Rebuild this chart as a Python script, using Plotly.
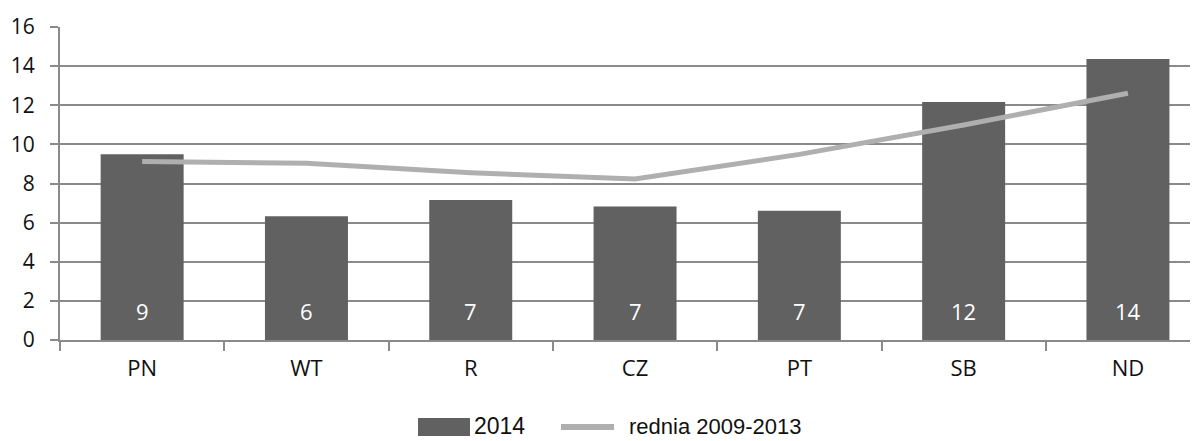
import plotly.graph_objects as go

days = ["PN", "WT", "R", "CZ", "PT", "SB", "ND"]
y2014 = [9.49, 6.32, 7.16, 6.82, 6.61, 12.17, 14.37]
avg_2009_2013 = [9.13, 9.03, 8.55, 8.23, 9.49, 10.99, 12.61]
y_ticks = [0, 2, 4, 6, 8, 10, 12, 14, 16]

BAR = "#616161"
LINE = "#afafaf"
GRID = "#8a8a8a"

# the page has an 8px body margin, so figure coords = screen coords - 8
OFF = 8
W, H = 1198 - OFF, 441 - OFF
L, R, T, B = 60 - OFF, W, 27 - OFF, 340 - OFF


def px(x):
    return (x - OFF - L) / (R - L)


def py(y):
    return (B - (y - OFF)) / (B - T)


fig = go.Figure()

fig.add_trace(go.Bar(x=days, y=y2014, name="2014", marker_color=BAR,
                     marker_line_width=0, showlegend=False))
fig.add_trace(go.Scatter(x=days, y=avg_2009_2013, mode="lines", name="rednia 2009-2013",
                         line=dict(color=LINE, width=5), showlegend=False))

# value labels at the base of the bars
for d, v in zip(days, y2014):
    fig.add_annotation(x=d, y=0, yshift=29, text=f"{v:.0f}", showarrow=False,
                       font=dict(family="Open Sans", size=22, color="white"))

# legend drawn by hand so the symbols get the right size
fig.add_shape(type="rect", xref="paper", yref="paper", x0=px(418), x1=px(470),
              y0=py(436), y1=py(418), fillcolor=BAR, line_width=0)
fig.add_annotation(xref="paper", yref="paper", x=px(472), y=py(426), xanchor="left",
                   yanchor="middle", text="2014", showarrow=False,
                   font=dict(family="Liberation Sans", size=23, color="#111"))
fig.add_shape(type="line", xref="paper", yref="paper", x0=px(561), x1=px(614),
              y0=py(427), y1=py(427), line=dict(color=LINE, width=6))
fig.add_annotation(xref="paper", yref="paper", x=px(627), y=py(426), xanchor="left",
                   yanchor="middle", text="rednia 2009-2013", showarrow=False,
                   font=dict(family="Liberation Sans", size=22, color="#111"))

fig.update_layout(
    width=W, height=H,
    margin=dict(l=L, r=W - R, t=T, b=H - B),
    plot_bgcolor="white", paper_bgcolor="white",
    bargap=0.495,
    font=dict(family="Open Sans", size=21, color="#111"),
)
fig.update_xaxes(
    type="category", range=[-0.5, -0.5 + (R - L) / 164.3], automargin=False,
    showline=True, linecolor=GRID, linewidth=2,
    ticks="outside", tickson="boundaries", ticklen=9, tickwidth=2, tickcolor=GRID,
    showgrid=False, ticklabelstandoff=8,
    tickfont=dict(family="Open Sans", size=22),
)
fig.update_yaxes(
    range=[0, 16], tickvals=y_ticks, automargin=False,
    showgrid=True, gridcolor=GRID, gridwidth=2,
    showline=True, linecolor=GRID, linewidth=2,
    ticks="outside", ticklen=8, tickwidth=2, tickcolor=GRID,
    zeroline=False, ticklabelstandoff=11,
    tickfont=dict(family="Open Sans", size=21),
)

fig.write_html("out.html")
